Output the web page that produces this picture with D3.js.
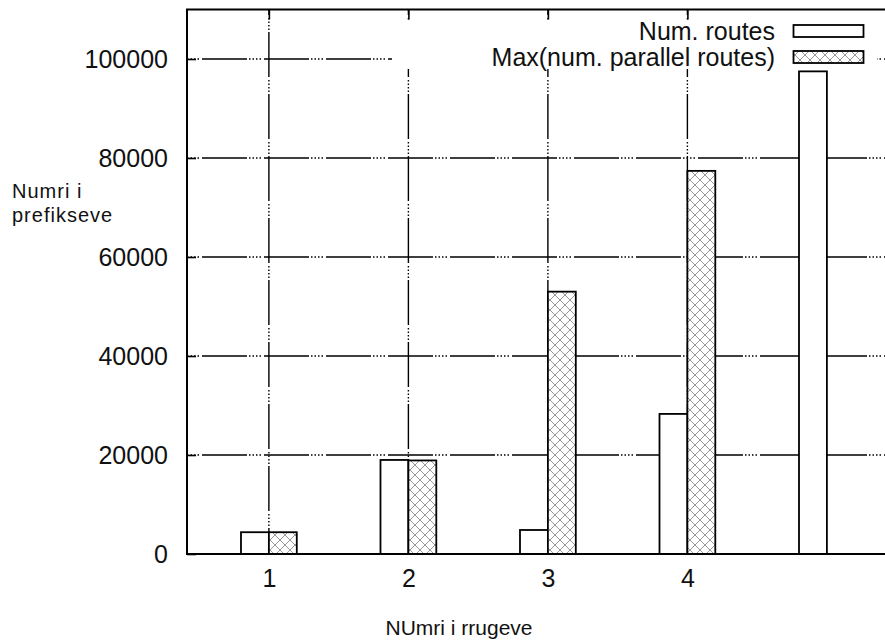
<!DOCTYPE html>
<html><head><meta charset="utf-8">
<script src="https://cdn.jsdelivr.net/npm/d3@7"></script>
<style>body{margin:0;background:#fff}svg{display:block;background:#fff}text{font-family:"Liberation Sans",Arial,sans-serif;fill:#111}</style>
</head><body><svg id="c" width="885" height="642"></svg>
<script>
const categories = ["1","2","3","4",""];
const numRoutes = [4400, 19000, 4850, 28300, 97500];
const maxParallelRoutes = [4400, 18900, 53000, 77400, 0];
const yTicks = [0,20000,40000,60000,80000,100000];
const seriesNames = ["Num. routes","Max(num. parallel routes)"];
const xTitle = "NUmri i rrugeve";
const yTitleLines = ["Numri i","prefikseve"];

const svg = d3.select("#c");
const L=187, T=9.5, B=554, R=910.6;
const x = d3.scaleLinear().domain([-0.587, 4.6]).range([L,R]);
const y = d3.scaleLinear().domain([0,110000]).range([B,T]);
const bw = 0.2;
const labeled = categories.map((c,i)=>i).filter(i=>categories[i]!=="");

const defs = svg.append("defs");
const pat = defs.append("pattern").attr("id","xh").attr("patternUnits","userSpaceOnUse").attr("width",10).attr("height",10);
pat.append("rect").attr("width",10).attr("height",10).attr("fill","#fff");
pat.append("path").attr("d","M0,0L10,10M10,0L0,10").attr("stroke","#999").attr("stroke-width",1);

const dash = "45 2 1.5 2 1.5 2 1.5 2 1.5 3";
const grid = svg.append("g");
grid.selectAll("line.h").data(yTicks.filter(d=>d>0)).join("line")
  .attr("x1",L).attr("x2",R).attr("y1",d=>y(d)).attr("y2",d=>y(d))
  .attr("stroke","#000").attr("stroke-width",1.4)
  .attr("stroke-dasharray",dash).attr("stroke-dashoffset",47);
grid.selectAll("line.v").data(labeled).join("line")
  .attr("x1",d=>x(d)).attr("x2",d=>x(d)).attr("y1",B).attr("y2",T)
  .attr("stroke","#000").attr("stroke-width",1.4)
  .attr("stroke-dasharray",dash).attr("stroke-dashoffset",19);

// inward ticks
svg.append("g").attr("transform",`translate(${L},0)`)
  .call(d3.axisRight(y).tickValues(yTicks).tickSize(9).tickFormat(""))
  .call(g=>{g.select(".domain").remove();g.selectAll("line").attr("stroke","#000").attr("stroke-width",1.6);});
svg.append("g").attr("transform",`translate(0,${T})`)
  .call(d3.axisBottom(x).tickValues(labeled).tickSize(10).tickFormat(""))
  .call(g=>{g.select(".domain").remove();g.selectAll("line").attr("stroke","#000").attr("stroke-width",1.6);});
svg.append("g").attr("transform",`translate(0,${B})`)
  .call(d3.axisTop(x).tickValues(labeled).tickSize(10).tickFormat(""))
  .call(g=>{g.select(".domain").remove();g.selectAll("line").attr("stroke","#000").attr("stroke-width",1.6);});

// bars
svg.append("g").selectAll("rect").data(numRoutes.map((v,i)=>({v,i})).filter(d=>d.v>0)).join("rect")
  .attr("x",d=>x(d.i-bw)).attr("width",d=>x(d.i)-x(d.i-bw))
  .attr("y",d=>y(d.v)).attr("height",d=>B-y(d.v))
  .attr("fill","#fff").attr("stroke","#000").attr("stroke-width",1.8);
svg.append("g").selectAll("rect").data(maxParallelRoutes.map((v,i)=>({v,i})).filter(d=>d.v>0)).join("rect")
  .attr("x",d=>x(d.i)).attr("width",d=>x(d.i+bw)-x(d.i))
  .attr("y",d=>y(d.v)).attr("height",d=>B-y(d.v))
  .attr("fill","url(#xh)").attr("stroke","#000").attr("stroke-width",1.8);

// frame
svg.append("rect").attr("x",L).attr("y",T).attr("width",R-L).attr("height",B-T)
  .attr("fill","none").attr("stroke","#000").attr("stroke-width",2);

// tick labels
svg.append("g").attr("transform",`translate(${L},0)`)
  .call(d3.axisLeft(y).tickValues(yTicks).tickFormat(d3.format("d")).tickSize(0).tickPadding(19))
  .call(g=>{g.select(".domain").remove();g.attr("font-size",25).attr("font-family",null);g.selectAll("text").attr("fill","#111");});
svg.append("g").attr("transform",`translate(0,${B})`)
  .call(d3.axisBottom(x).tickValues(labeled).tickFormat(i=>categories[i]).tickSize(0).tickPadding(15))
  .call(g=>{g.select(".domain").remove();g.attr("font-size",25).attr("font-family",null);g.selectAll("text").attr("fill","#111");});

// legend
const lg = svg.append("g");
lg.append("rect").attr("x",392).attr("y",20).attr("width",485).attr("height",49).attr("fill","#fff");
const rows = [31,57];
lg.selectAll("text").data(seriesNames).join("text")
  .attr("x",775).attr("y",(d,i)=>rows[i]).attr("dy","0.35em").attr("text-anchor","end")
  .attr("font-size",25).text(d=>d);
lg.selectAll("rect.s").data(seriesNames).join("rect").attr("class","s")
  .attr("x",793.5).attr("y",(d,i)=>rows[i]-6).attr("width",70).attr("height",12)
  .attr("fill",(d,i)=>i===0?"#fff":"url(#xh)").attr("stroke","#000").attr("stroke-width",1.8);

// titles
svg.append("g").selectAll("text").data(yTitleLines).join("text")
  .attr("x",12).attr("y",(d,i)=>198+i*24).attr("font-size",20).attr("letter-spacing",1).text(d=>d);
svg.append("text").attr("x",459).attr("y",635).attr("text-anchor","middle").attr("font-size",21).text(xTitle);
</script></body></html>
